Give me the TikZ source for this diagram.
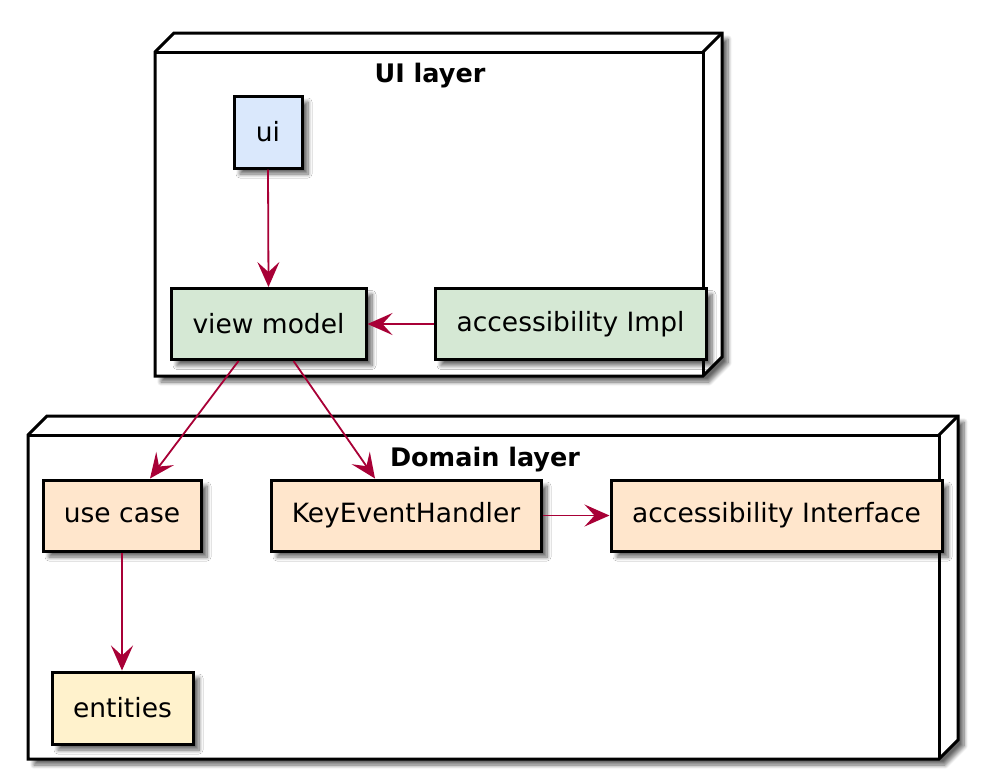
\documentclass[tikz,border=0pt]{standalone}
\usepackage{fontspec}
\setmainfont{DejaVu Sans}
\usetikzlibrary{arrows.meta,shadows.blur,calc}
\definecolor{arr}{HTML}{A80036}
\definecolor{uiblue}{HTML}{DAE8FC}
\definecolor{vmgreen}{HTML}{D5E8D4}
\definecolor{domorange}{HTML}{FFE6CC}
\definecolor{entyellow}{HTML}{FFF2CC}
\begin{document}
\begin{tikzpicture}[x=1pt,y=-1pt,
  shad/.style={blur shadow={shadow xshift=6pt,shadow yshift=-6pt,shadow blur steps=8,shadow blur radius=4pt,shadow opacity=60}},
  box/.style={draw=black,line width=3pt,inner sep=0pt,font=\fontsize{26.5}{32}\selectfont,shad},
  layer/.style={draw=black,fill=white,line width=3pt,line join=miter,shad},
  edge3d/.style={draw=black,line width=3pt},
  conn/.style={draw=arr,line width=1.8pt,-{Stealth[length=25pt,width=22pt,inset=10pt]}},
  title/.style={font=\fontsize{25.5}{30}\selectfont\bfseries}]
\useasboundingbox (0,0) rectangle (1000,782);
% UI layer
\path[layer] (155,52) -- (174,33) -- (722,33) -- (722,357) -- (703,376) -- (155,376) -- cycle;
\draw[edge3d] (155,52) -- (703,52) -- (703,376);
\draw[edge3d] (703,52) -- (722,33);
\node[title] (uit) at (430,76) {UI layer};
% Domain layer
\path[layer] (28,435) -- (47,416) -- (958,416) -- (958,740) -- (939,759) -- (28,759) -- cycle;
\draw[edge3d] (28,435) -- (939,435) -- (939,759);
\draw[edge3d] (939,435) -- (958,416);
\node[title] (dt) at (485,460) {Domain layer};
% nodes
\node[box,fill=uiblue,minimum width=68pt,minimum height=72pt] (ui) at (268,132) {ui};
\node[box,fill=vmgreen,minimum width=195pt,minimum height=71pt] (vm) at (268.5,324) {view model};
\node[box,fill=vmgreen,minimum width=271pt,minimum height=71pt] (ai) at (570.5,324) {accessibility Impl};
\node[box,fill=domorange,minimum width=158pt,minimum height=71pt] (uc) at (122,515.5) {use case};
\node[box,fill=domorange,minimum width=270pt,minimum height=71pt] (keh) at (406,515.5) {KeyEventHandler};
\node[box,fill=domorange,minimum width=331pt,minimum height=71pt] (aif) at (776.5,515.5) {accessibility Interface};
\node[box,fill=entyellow,minimum width=141pt,minimum height=72pt] (ent) at (122.5,708) {entities};
% connectors
\draw[conn] (ui.south) -- (vm.north);
\draw[conn] (ai.west) -- (vm.east);
\draw[conn] ([xshift=-30pt]vm.south) -- ([xshift=28pt]uc.north);
\draw[conn] ([xshift=25pt]vm.south) -- ([xshift=-31pt]keh.north);
\draw[conn] (keh.east) -- (aif.west);
\draw[conn] (uc.south) -- (uc.south |- ent.north);
\end{tikzpicture}
\end{document}
